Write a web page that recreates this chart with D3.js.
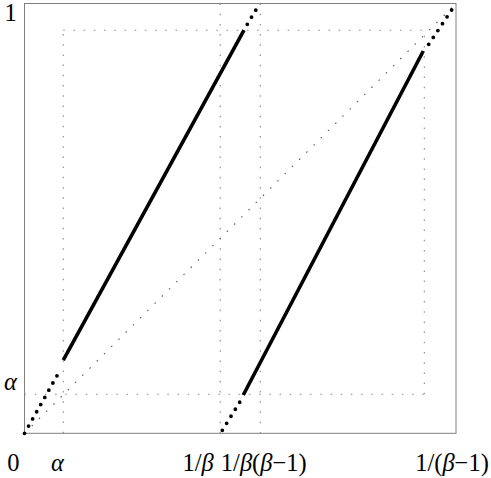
<!DOCTYPE html>
<html>
<head>
<meta charset="utf-8">
<script src="https://cdn.jsdelivr.net/npm/d3@7"></script>
<style>
  html, body { margin: 0; padding: 0; background: #fff; }
  svg { display: block; }
  text { font-family: "Liberation Serif", "Times New Roman", serif; fill: #000; }
</style>
</head>
<body>
<svg id="chart" width="491" height="478"></svg>
<script>
// ---- data ----
const xDomain = [0, 1.2048];          // [0, 1/(beta-1)], beta ≈ 1.83
const yDomain = [0, 1];
const xTickValues = [0, 0.1083, 0.5464, 0.6583, 1.2048];
const xTickLabels = ["0", "α", "1/β", "1/β(β−1)", "1/(β−1)"];
const yTickValues = [0.0907, 1];
const yTickLabels = ["α", "1"];
// guide rectangle [alpha, right] x [alpha, top]
const guideX = [0.1083, 1.1163];
const guideY = [0.0907, 0.9377];
// vertical full-height guides at 1/beta and 1/(beta(beta-1))
const fullGuidesX = [0.5464, 0.6583];
// map branches: solid parts
const solidSegments = [
  [[0.1083, 0.1705], [0.6129, 0.9383]],
  [[0.6109, 0.0891], [1.1135, 0.8895]]
];
// map branches: dotted parts
const dottedSegments = [
  [[0, 0], [0.1019, 0.1503]],
  [[0.6221, 0.9516], [0.6567, 1]],
  [[0.5523, 0.007], [0.6017, 0.0735]],
  [[1.1286, 0.9051], [1.2048, 1]]
];
// diagonal
const diagonal = [[0, 0], [1.2048, 1]];

// ---- layout ----
const svg = d3.select("#chart");
const x = d3.scaleLinear().domain(xDomain).range([24.5, 456]);
const y = d3.scaleLinear().domain(yDomain).range([433.3, 3.5]);
const line = d3.line().x(d => x(d[0])).y(d => y(d[1]));

// guides
const guideStyle = sel => sel.attr("stroke", "#888").attr("stroke-width", 1.1)
  .attr("stroke-dasharray", "1.5 8.7").attr("fill", "none");
svg.append("path").attr("d", line([[guideX[0], 0], [guideX[0], guideY[1]]])).call(guideStyle);
svg.append("path").attr("d", line([[0, guideY[0]], [guideX[1], guideY[0]]])).call(guideStyle);
svg.append("path").attr("d", line([[guideX[0], guideY[1]], [guideX[1], guideY[1]]])).call(guideStyle);
svg.append("path").attr("d", line([[guideX[1], guideY[0]], [guideX[1], guideY[1]]])).call(guideStyle);
fullGuidesX.forEach(v => {
  svg.append("path").attr("d", line([[v, yDomain[1]], [v, yDomain[0]]])).call(guideStyle);
});
// diagonal
svg.append("path").attr("d", line(diagonal))
  .attr("stroke", "#555").attr("stroke-width", 1.1)
  .attr("stroke-dasharray", "1.5 8.7").attr("fill", "none");

// frame
svg.append("rect")
  .attr("x", x(xDomain[0])).attr("y", y(yDomain[1]))
  .attr("width", x(xDomain[1]) - x(xDomain[0]))
  .attr("height", y(yDomain[0]) - y(yDomain[1]))
  .attr("fill", "none").attr("stroke", "#808080").attr("stroke-width", 1);

// solid branches
solidSegments.forEach(s => {
  svg.append("path").attr("d", line(s))
    .attr("stroke", "#000").attr("stroke-width", 3.6)
    .attr("stroke-linecap", "butt").attr("fill", "none");
});
// dotted branches
dottedSegments.forEach(s => {
  svg.append("path").attr("d", line(s))
    .attr("stroke", "#000").attr("stroke-width", 3.8)
    .attr("stroke-linecap", "round")
    .attr("stroke-dasharray", "0 8.25").attr("fill", "none");
});

// labels
function addLabel(g, str) {
  for (const ch of str) {
    const t = g.append("tspan").text(ch);
    if (ch === "α" || ch === "β") t.attr("font-style", "italic");
  }
}
const xLabelDx = [-11.2, -5.8, -22, 3.5, -4];
const xAxisG = svg.append("g");
xTickValues.forEach((v, i) => {
  const t = xAxisG.append("text")
    .attr("x", x(v) + xLabelDx[i]).attr("y", 470.5)
    .attr("text-anchor", "middle").attr("font-size", 24.5);
  addLabel(t, xTickLabels[i]);
});
const yLabelDy = [-4, 17.5];
const yAxisG = svg.append("g");
yTickValues.forEach((v, i) => {
  const t = yAxisG.append("text")
    .attr("x", 10.5).attr("y", y(v) + yLabelDy[i])
    .attr("text-anchor", "middle").attr("font-size", 24.5);
  addLabel(t, yTickLabels[i]);
});
</script>
</body>
</html>
